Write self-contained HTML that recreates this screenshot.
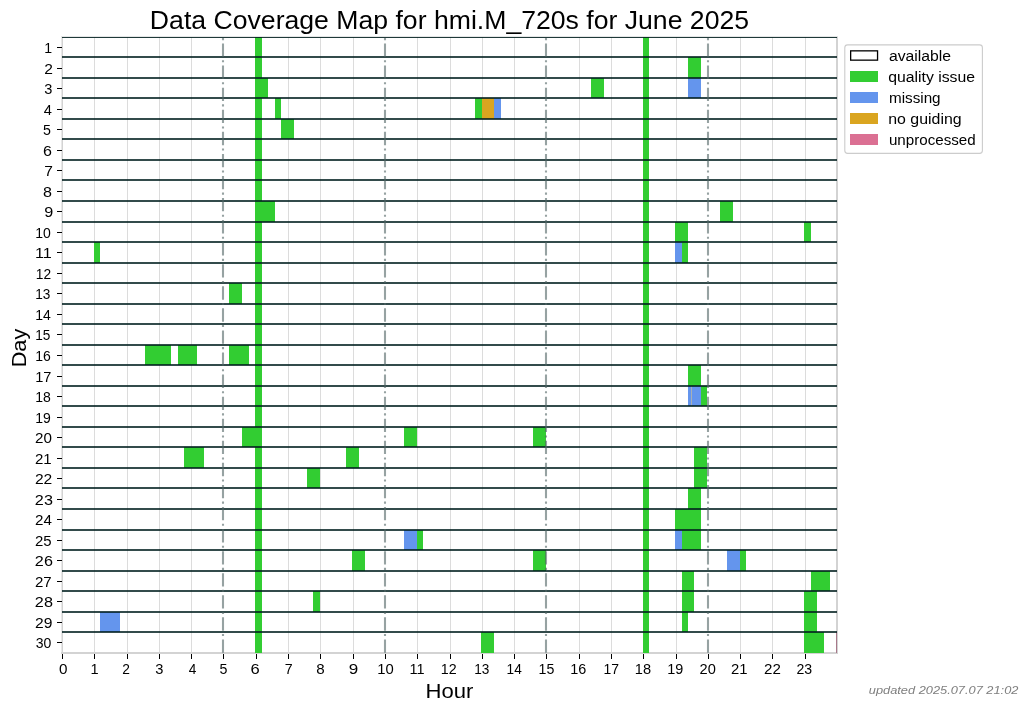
<!DOCTYPE html>
<html><head><meta charset="utf-8"><title>Data Coverage Map</title><style>
html,body{margin:0;padding:0;background:#fff;overflow:hidden;}
svg{display:block;will-change:transform;}
text{font-family:"Liberation Sans",sans-serif;}
</style></head><body>
<svg width="1028" height="711" viewBox="0 0 1028 711">
<rect width="1028" height="711" fill="#fff"/>
<g shape-rendering="crispEdges">
<rect x="61" y="37" width="1" height="617" fill="#e8e8e8"/>
<rect x="62" y="37" width="1" height="617" fill="#d3d3d3"/>
<rect x="836" y="37" width="2" height="617" fill="#d3d3d3"/>
<rect x="61" y="652" width="777" height="2" fill="#d3d3d3"/>
<rect x="94" y="37" width="1" height="615" fill="#dcdcdc"/>
<rect x="127" y="37" width="1" height="615" fill="#dcdcdc"/>
<rect x="159" y="37" width="1" height="615" fill="#dcdcdc"/>
<rect x="191" y="37" width="1" height="615" fill="#dcdcdc"/>
<rect x="256" y="37" width="1" height="615" fill="#dcdcdc"/>
<rect x="288" y="37" width="1" height="615" fill="#dcdcdc"/>
<rect x="320" y="37" width="1" height="615" fill="#dcdcdc"/>
<rect x="353" y="37" width="1" height="615" fill="#dcdcdc"/>
<rect x="417" y="37" width="1" height="615" fill="#dcdcdc"/>
<rect x="450" y="37" width="1" height="615" fill="#dcdcdc"/>
<rect x="482" y="37" width="1" height="615" fill="#dcdcdc"/>
<rect x="514" y="37" width="1" height="615" fill="#dcdcdc"/>
<rect x="579" y="37" width="1" height="615" fill="#dcdcdc"/>
<rect x="611" y="37" width="1" height="615" fill="#dcdcdc"/>
<rect x="643" y="37" width="1" height="615" fill="#dcdcdc"/>
<rect x="676" y="37" width="1" height="615" fill="#dcdcdc"/>
<rect x="740" y="37" width="1" height="615" fill="#dcdcdc"/>
<rect x="772" y="37" width="1" height="615" fill="#dcdcdc"/>
<rect x="805" y="37" width="1" height="615" fill="#dcdcdc"/>
<rect x="255" y="37" width="7" height="20" fill="#32cd32"/>
<rect x="643" y="37" width="6" height="20" fill="#32cd32"/>
<rect x="688" y="57" width="13" height="21" fill="#32cd32"/>
<rect x="255" y="57" width="7" height="21" fill="#32cd32"/>
<rect x="643" y="57" width="6" height="21" fill="#32cd32"/>
<rect x="255" y="78" width="13" height="20" fill="#32cd32"/>
<rect x="591" y="78" width="13" height="20" fill="#32cd32"/>
<rect x="688" y="78" width="13" height="20" fill="#6495ed"/>
<rect x="255" y="78" width="7" height="20" fill="#32cd32"/>
<rect x="643" y="78" width="6" height="20" fill="#32cd32"/>
<rect x="275" y="98" width="6" height="21" fill="#32cd32"/>
<rect x="475" y="98" width="7" height="21" fill="#32cd32"/>
<rect x="482" y="98" width="12" height="21" fill="#daa520"/>
<rect x="494" y="98" width="7" height="21" fill="#6495ed"/>
<rect x="255" y="98" width="7" height="21" fill="#32cd32"/>
<rect x="643" y="98" width="6" height="21" fill="#32cd32"/>
<rect x="281" y="119" width="13" height="20" fill="#32cd32"/>
<rect x="255" y="119" width="7" height="20" fill="#32cd32"/>
<rect x="643" y="119" width="6" height="20" fill="#32cd32"/>
<rect x="255" y="139" width="7" height="21" fill="#32cd32"/>
<rect x="643" y="139" width="6" height="21" fill="#32cd32"/>
<rect x="255" y="160" width="7" height="20" fill="#32cd32"/>
<rect x="643" y="160" width="6" height="20" fill="#32cd32"/>
<rect x="255" y="180" width="7" height="21" fill="#32cd32"/>
<rect x="643" y="180" width="6" height="21" fill="#32cd32"/>
<rect x="255" y="201" width="20" height="21" fill="#32cd32"/>
<rect x="720" y="201" width="13" height="21" fill="#32cd32"/>
<rect x="255" y="201" width="7" height="21" fill="#32cd32"/>
<rect x="643" y="201" width="6" height="21" fill="#32cd32"/>
<rect x="675" y="222" width="13" height="20" fill="#32cd32"/>
<rect x="804" y="222" width="7" height="20" fill="#32cd32"/>
<rect x="255" y="222" width="7" height="20" fill="#32cd32"/>
<rect x="643" y="222" width="6" height="20" fill="#32cd32"/>
<rect x="94" y="242" width="6" height="21" fill="#32cd32"/>
<rect x="675" y="242" width="7" height="21" fill="#6495ed"/>
<rect x="682" y="242" width="6" height="21" fill="#32cd32"/>
<rect x="255" y="242" width="7" height="21" fill="#32cd32"/>
<rect x="643" y="242" width="6" height="21" fill="#32cd32"/>
<rect x="255" y="263" width="7" height="20" fill="#32cd32"/>
<rect x="643" y="263" width="6" height="20" fill="#32cd32"/>
<rect x="229" y="283" width="13" height="21" fill="#32cd32"/>
<rect x="255" y="283" width="7" height="21" fill="#32cd32"/>
<rect x="643" y="283" width="6" height="21" fill="#32cd32"/>
<rect x="255" y="304" width="7" height="20" fill="#32cd32"/>
<rect x="643" y="304" width="6" height="20" fill="#32cd32"/>
<rect x="255" y="324" width="7" height="21" fill="#32cd32"/>
<rect x="643" y="324" width="6" height="21" fill="#32cd32"/>
<rect x="145" y="345" width="26" height="20" fill="#32cd32"/>
<rect x="178" y="345" width="19" height="20" fill="#32cd32"/>
<rect x="229" y="345" width="20" height="20" fill="#32cd32"/>
<rect x="255" y="345" width="7" height="20" fill="#32cd32"/>
<rect x="643" y="345" width="6" height="20" fill="#32cd32"/>
<rect x="688" y="365" width="13" height="21" fill="#32cd32"/>
<rect x="255" y="365" width="7" height="21" fill="#32cd32"/>
<rect x="643" y="365" width="6" height="21" fill="#32cd32"/>
<rect x="688" y="386" width="13" height="20" fill="#6495ed"/>
<rect x="701" y="386" width="6" height="20" fill="#32cd32"/>
<rect x="255" y="386" width="7" height="20" fill="#32cd32"/>
<rect x="643" y="386" width="6" height="20" fill="#32cd32"/>
<rect x="255" y="406" width="7" height="21" fill="#32cd32"/>
<rect x="643" y="406" width="6" height="21" fill="#32cd32"/>
<rect x="242" y="427" width="20" height="20" fill="#32cd32"/>
<rect x="404" y="427" width="13" height="20" fill="#32cd32"/>
<rect x="533" y="427" width="13" height="20" fill="#32cd32"/>
<rect x="255" y="427" width="7" height="20" fill="#32cd32"/>
<rect x="643" y="427" width="6" height="20" fill="#32cd32"/>
<rect x="184" y="447" width="20" height="21" fill="#32cd32"/>
<rect x="346" y="447" width="13" height="21" fill="#32cd32"/>
<rect x="694" y="447" width="13" height="21" fill="#32cd32"/>
<rect x="255" y="447" width="7" height="21" fill="#32cd32"/>
<rect x="643" y="447" width="6" height="21" fill="#32cd32"/>
<rect x="307" y="468" width="13" height="20" fill="#32cd32"/>
<rect x="694" y="468" width="13" height="20" fill="#32cd32"/>
<rect x="255" y="468" width="7" height="20" fill="#32cd32"/>
<rect x="643" y="468" width="6" height="20" fill="#32cd32"/>
<rect x="688" y="488" width="13" height="21" fill="#32cd32"/>
<rect x="255" y="488" width="7" height="21" fill="#32cd32"/>
<rect x="643" y="488" width="6" height="21" fill="#32cd32"/>
<rect x="675" y="509" width="26" height="21" fill="#32cd32"/>
<rect x="255" y="509" width="7" height="21" fill="#32cd32"/>
<rect x="643" y="509" width="6" height="21" fill="#32cd32"/>
<rect x="404" y="530" width="13" height="20" fill="#6495ed"/>
<rect x="417" y="530" width="6" height="20" fill="#32cd32"/>
<rect x="675" y="530" width="7" height="20" fill="#6495ed"/>
<rect x="682" y="530" width="19" height="20" fill="#32cd32"/>
<rect x="255" y="530" width="7" height="20" fill="#32cd32"/>
<rect x="643" y="530" width="6" height="20" fill="#32cd32"/>
<rect x="352" y="550" width="13" height="21" fill="#32cd32"/>
<rect x="533" y="550" width="13" height="21" fill="#32cd32"/>
<rect x="727" y="550" width="13" height="21" fill="#6495ed"/>
<rect x="740" y="550" width="6" height="21" fill="#32cd32"/>
<rect x="255" y="550" width="7" height="21" fill="#32cd32"/>
<rect x="643" y="550" width="6" height="21" fill="#32cd32"/>
<rect x="682" y="571" width="12" height="20" fill="#32cd32"/>
<rect x="811" y="571" width="19" height="20" fill="#32cd32"/>
<rect x="255" y="571" width="7" height="20" fill="#32cd32"/>
<rect x="643" y="571" width="6" height="20" fill="#32cd32"/>
<rect x="313" y="591" width="7" height="21" fill="#32cd32"/>
<rect x="682" y="591" width="12" height="21" fill="#32cd32"/>
<rect x="804" y="591" width="13" height="21" fill="#32cd32"/>
<rect x="255" y="591" width="7" height="21" fill="#32cd32"/>
<rect x="643" y="591" width="6" height="21" fill="#32cd32"/>
<rect x="100" y="612" width="20" height="20" fill="#6495ed"/>
<rect x="682" y="612" width="6" height="20" fill="#32cd32"/>
<rect x="804" y="612" width="13" height="20" fill="#32cd32"/>
<rect x="255" y="612" width="7" height="20" fill="#32cd32"/>
<rect x="643" y="612" width="6" height="20" fill="#32cd32"/>
<rect x="481" y="632" width="13" height="21" fill="#32cd32"/>
<rect x="804" y="632" width="20" height="21" fill="#32cd32"/>
<rect x="255" y="632" width="7" height="21" fill="#32cd32"/>
<rect x="643" y="632" width="6" height="21" fill="#32cd32"/>
<rect x="691" y="386" width="1" height="20" fill="#a8b0b4"/>
<rect x="836" y="632" width="1" height="21" fill="#a8788a"/>
<rect x="61" y="36" width="777" height="1" fill="#e4e6e6"/>
<rect x="62" y="37" width="775" height="1" fill="#001e1e" fill-opacity="0.88"/>
<rect x="62" y="56" width="775" height="2" fill="#001e1e" fill-opacity="0.8"/>
<rect x="62" y="77" width="775" height="2" fill="#001e1e" fill-opacity="0.8"/>
<rect x="62" y="97" width="775" height="2" fill="#001e1e" fill-opacity="0.8"/>
<rect x="62" y="118" width="775" height="2" fill="#001e1e" fill-opacity="0.8"/>
<rect x="62" y="138" width="775" height="2" fill="#001e1e" fill-opacity="0.8"/>
<rect x="62" y="159" width="775" height="2" fill="#001e1e" fill-opacity="0.8"/>
<rect x="62" y="179" width="775" height="2" fill="#001e1e" fill-opacity="0.8"/>
<rect x="62" y="200" width="775" height="2" fill="#001e1e" fill-opacity="0.8"/>
<rect x="62" y="221" width="775" height="2" fill="#001e1e" fill-opacity="0.8"/>
<rect x="62" y="241" width="775" height="2" fill="#001e1e" fill-opacity="0.8"/>
<rect x="62" y="262" width="775" height="2" fill="#001e1e" fill-opacity="0.8"/>
<rect x="62" y="282" width="775" height="2" fill="#001e1e" fill-opacity="0.8"/>
<rect x="62" y="303" width="775" height="2" fill="#001e1e" fill-opacity="0.8"/>
<rect x="62" y="323" width="775" height="2" fill="#001e1e" fill-opacity="0.8"/>
<rect x="62" y="344" width="775" height="2" fill="#001e1e" fill-opacity="0.8"/>
<rect x="62" y="364" width="775" height="2" fill="#001e1e" fill-opacity="0.8"/>
<rect x="62" y="385" width="775" height="2" fill="#001e1e" fill-opacity="0.8"/>
<rect x="62" y="405" width="775" height="2" fill="#001e1e" fill-opacity="0.8"/>
<rect x="62" y="426" width="775" height="2" fill="#001e1e" fill-opacity="0.8"/>
<rect x="62" y="446" width="775" height="2" fill="#001e1e" fill-opacity="0.8"/>
<rect x="62" y="467" width="775" height="2" fill="#001e1e" fill-opacity="0.8"/>
<rect x="62" y="487" width="775" height="2" fill="#001e1e" fill-opacity="0.8"/>
<rect x="62" y="508" width="775" height="2" fill="#001e1e" fill-opacity="0.8"/>
<rect x="62" y="529" width="775" height="2" fill="#001e1e" fill-opacity="0.8"/>
<rect x="62" y="549" width="775" height="2" fill="#001e1e" fill-opacity="0.8"/>
<rect x="62" y="570" width="775" height="2" fill="#001e1e" fill-opacity="0.8"/>
<rect x="62" y="590" width="775" height="2" fill="#001e1e" fill-opacity="0.8"/>
<rect x="62" y="611" width="775" height="2" fill="#001e1e" fill-opacity="0.8"/>
<rect x="62" y="631" width="775" height="2" fill="#001e1e" fill-opacity="0.8"/>
</g>
<line x1="223" y1="652.75" x2="223" y2="36.75" stroke="#506464" stroke-opacity="0.6" stroke-width="2.08" stroke-dasharray="13.33 3.33 2.08 3.33"/>
<line x1="385" y1="652.75" x2="385" y2="36.75" stroke="#506464" stroke-opacity="0.6" stroke-width="2.08" stroke-dasharray="13.33 3.33 2.08 3.33"/>
<line x1="546" y1="652.75" x2="546" y2="36.75" stroke="#506464" stroke-opacity="0.6" stroke-width="2.08" stroke-dasharray="13.33 3.33 2.08 3.33"/>
<line x1="708" y1="652.75" x2="708" y2="36.75" stroke="#506464" stroke-opacity="0.6" stroke-width="2.08" stroke-dasharray="13.33 3.33 2.08 3.33"/>
<g shape-rendering="crispEdges">
<rect x="62" y="654" width="1" height="5" fill="#000"/>
<rect x="94" y="654" width="1" height="5" fill="#000"/>
<rect x="127" y="654" width="1" height="5" fill="#000"/>
<rect x="159" y="654" width="1" height="5" fill="#000"/>
<rect x="191" y="654" width="1" height="5" fill="#000"/>
<rect x="223" y="654" width="1" height="5" fill="#000"/>
<rect x="256" y="654" width="1" height="5" fill="#000"/>
<rect x="288" y="654" width="1" height="5" fill="#000"/>
<rect x="320" y="654" width="1" height="5" fill="#000"/>
<rect x="353" y="654" width="1" height="5" fill="#000"/>
<rect x="385" y="654" width="1" height="5" fill="#000"/>
<rect x="417" y="654" width="1" height="5" fill="#000"/>
<rect x="450" y="654" width="1" height="5" fill="#000"/>
<rect x="482" y="654" width="1" height="5" fill="#000"/>
<rect x="514" y="654" width="1" height="5" fill="#000"/>
<rect x="546" y="654" width="1" height="5" fill="#000"/>
<rect x="579" y="654" width="1" height="5" fill="#000"/>
<rect x="611" y="654" width="1" height="5" fill="#000"/>
<rect x="643" y="654" width="1" height="5" fill="#000"/>
<rect x="676" y="654" width="1" height="5" fill="#000"/>
<rect x="708" y="654" width="1" height="5" fill="#000"/>
<rect x="740" y="654" width="1" height="5" fill="#000"/>
<rect x="772" y="654" width="1" height="5" fill="#000"/>
<rect x="805" y="654" width="1" height="5" fill="#000"/>
<rect x="57" y="47" width="5" height="1" fill="#000"/>
<rect x="57" y="68" width="5" height="1" fill="#000"/>
<rect x="57" y="88" width="5" height="1" fill="#000"/>
<rect x="57" y="109" width="5" height="1" fill="#000"/>
<rect x="57" y="129" width="5" height="1" fill="#000"/>
<rect x="57" y="150" width="5" height="1" fill="#000"/>
<rect x="57" y="170" width="5" height="1" fill="#000"/>
<rect x="57" y="191" width="5" height="1" fill="#000"/>
<rect x="57" y="211" width="5" height="1" fill="#000"/>
<rect x="57" y="232" width="5" height="1" fill="#000"/>
<rect x="57" y="252" width="5" height="1" fill="#000"/>
<rect x="57" y="273" width="5" height="1" fill="#000"/>
<rect x="57" y="293" width="5" height="1" fill="#000"/>
<rect x="57" y="314" width="5" height="1" fill="#000"/>
<rect x="57" y="334" width="5" height="1" fill="#000"/>
<rect x="57" y="355" width="5" height="1" fill="#000"/>
<rect x="57" y="376" width="5" height="1" fill="#000"/>
<rect x="57" y="396" width="5" height="1" fill="#000"/>
<rect x="57" y="417" width="5" height="1" fill="#000"/>
<rect x="57" y="437" width="5" height="1" fill="#000"/>
<rect x="57" y="458" width="5" height="1" fill="#000"/>
<rect x="57" y="478" width="5" height="1" fill="#000"/>
<rect x="57" y="499" width="5" height="1" fill="#000"/>
<rect x="57" y="519" width="5" height="1" fill="#000"/>
<rect x="57" y="540" width="5" height="1" fill="#000"/>
<rect x="57" y="560" width="5" height="1" fill="#000"/>
<rect x="57" y="581" width="5" height="1" fill="#000"/>
<rect x="57" y="601" width="5" height="1" fill="#000"/>
<rect x="57" y="622" width="5" height="1" fill="#000"/>
<rect x="57" y="642" width="5" height="1" fill="#000"/>
</g>
<rect x="844.8" y="44.9" width="137.6" height="108.5" rx="2.8" ry="2.8" fill="#fff" stroke="#cccccc" stroke-width="1.1"/>
<rect x="850.65" y="50.85" width="26.9" height="9.3" fill="#fff" stroke="#000" stroke-width="1.3"/>
<rect x="850" y="71" width="28" height="11" fill="#32cd32" shape-rendering="crispEdges"/>
<rect x="850" y="92" width="28" height="11" fill="#6495ed" shape-rendering="crispEdges"/>
<rect x="850" y="113" width="28" height="11" fill="#daa520" shape-rendering="crispEdges"/>
<rect x="850" y="134" width="28" height="11" fill="#db7093" shape-rendering="crispEdges"/>
<text x="149.89" y="28.90" fill="#000" style="font-size:25.2px;" textLength="599.20" lengthAdjust="spacingAndGlyphs">Data Coverage Map for hmi.M_720s for June 2025</text>
<text x="425.56" y="698.00" fill="#000" style="font-size:21.0px;" textLength="47.90" lengthAdjust="spacingAndGlyphs">Hour</text>
<text transform="rotate(-90)" x="-367.39" y="25.90" fill="#000" style="font-size:21.0px;" textLength="38.66" lengthAdjust="spacingAndGlyphs">Day</text>
<text x="868.75" y="693.90" fill="#7f7f7f" style="font-size:11.6px;font-style:italic;" textLength="149.64" lengthAdjust="spacingAndGlyphs">updated 2025.07.07 21:02</text>
<text x="888.91" y="61.00" fill="#000" style="font-size:14.45px;" textLength="62.19" lengthAdjust="spacingAndGlyphs">available</text>
<text x="888.22" y="81.85" fill="#000" style="font-size:14.45px;" textLength="86.79" lengthAdjust="spacingAndGlyphs">quality issue</text>
<text x="888.94" y="102.70" fill="#000" style="font-size:14.45px;" textLength="51.66" lengthAdjust="spacingAndGlyphs">missing</text>
<text x="888.21" y="123.55" fill="#000" style="font-size:14.45px;" textLength="73.41" lengthAdjust="spacingAndGlyphs">no guiding</text>
<text x="888.95" y="145.20" fill="#000" style="font-size:14.45px;" textLength="86.75" lengthAdjust="spacingAndGlyphs">unprocessed</text>
<text x="58.96" y="674.00" fill="#000" style="font-size:14.6px;" textLength="8.48" lengthAdjust="spacingAndGlyphs">0</text>
<text x="90.50" y="674.00" fill="#000" style="font-size:14.6px;" textLength="8.12" lengthAdjust="spacingAndGlyphs">1</text>
<text x="122.34" y="674.00" fill="#000" style="font-size:14.6px;" textLength="7.68" lengthAdjust="spacingAndGlyphs">2</text>
<text x="155.30" y="674.00" fill="#000" style="font-size:14.6px;" textLength="8.17" lengthAdjust="spacingAndGlyphs">3</text>
<text x="188.69" y="674.00" fill="#000" style="font-size:14.6px;" textLength="7.60" lengthAdjust="spacingAndGlyphs">4</text>
<text x="219.48" y="674.00" fill="#000" style="font-size:14.6px;" textLength="7.92" lengthAdjust="spacingAndGlyphs">5</text>
<text x="250.54" y="674.00" fill="#000" style="font-size:14.6px;" textLength="9.21" lengthAdjust="spacingAndGlyphs">6</text>
<text x="284.63" y="674.00" fill="#000" style="font-size:14.6px;" textLength="7.92" lengthAdjust="spacingAndGlyphs">7</text>
<text x="316.28" y="674.00" fill="#000" style="font-size:14.6px;" textLength="8.43" lengthAdjust="spacingAndGlyphs">8</text>
<text x="348.83" y="674.00" fill="#000" style="font-size:14.6px;" textLength="9.48" lengthAdjust="spacingAndGlyphs">9</text>
<text x="377.17" y="674.00" fill="#000" style="font-size:14.6px;" textLength="16.48" lengthAdjust="spacingAndGlyphs">10</text>
<text x="409.46" y="674.00" fill="#000" style="font-size:14.6px;" textLength="15.05" lengthAdjust="spacingAndGlyphs">11</text>
<text x="440.87" y="674.00" fill="#000" style="font-size:14.6px;" textLength="15.85" lengthAdjust="spacingAndGlyphs">12</text>
<text x="474.28" y="674.00" fill="#000" style="font-size:14.6px;" textLength="15.15" lengthAdjust="spacingAndGlyphs">13</text>
<text x="506.57" y="674.00" fill="#000" style="font-size:14.6px;" textLength="15.15" lengthAdjust="spacingAndGlyphs">14</text>
<text x="538.54" y="674.00" fill="#000" style="font-size:14.6px;" textLength="15.77" lengthAdjust="spacingAndGlyphs">15</text>
<text x="570.20" y="674.00" fill="#000" style="font-size:14.6px;" textLength="16.03" lengthAdjust="spacingAndGlyphs">16</text>
<text x="603.55" y="674.00" fill="#000" style="font-size:14.6px;" textLength="15.55" lengthAdjust="spacingAndGlyphs">17</text>
<text x="634.87" y="674.00" fill="#000" style="font-size:14.6px;" textLength="16.25" lengthAdjust="spacingAndGlyphs">18</text>
<text x="667.20" y="674.00" fill="#000" style="font-size:14.6px;" textLength="16.03" lengthAdjust="spacingAndGlyphs">19</text>
<text x="699.59" y="674.00" fill="#000" style="font-size:14.6px;" textLength="16.25" lengthAdjust="spacingAndGlyphs">20</text>
<text x="730.98" y="674.00" fill="#000" style="font-size:14.6px;" textLength="16.52" lengthAdjust="spacingAndGlyphs">21</text>
<text x="764.12" y="674.00" fill="#000" style="font-size:14.6px;" textLength="16.82" lengthAdjust="spacingAndGlyphs">22</text>
<text x="796.48" y="674.00" fill="#000" style="font-size:14.6px;" textLength="15.70" lengthAdjust="spacingAndGlyphs">23</text>
<text x="44.15" y="52.97" fill="#000" style="font-size:14.6px;" textLength="7.86" lengthAdjust="spacingAndGlyphs">1</text>
<text x="44.23" y="73.50" fill="#000" style="font-size:14.6px;" textLength="8.68" lengthAdjust="spacingAndGlyphs">2</text>
<text x="44.30" y="94.03" fill="#000" style="font-size:14.6px;" textLength="8.12" lengthAdjust="spacingAndGlyphs">3</text>
<text x="43.82" y="114.57" fill="#000" style="font-size:14.6px;" textLength="8.16" lengthAdjust="spacingAndGlyphs">4</text>
<text x="43.02" y="135.10" fill="#000" style="font-size:14.6px;" textLength="7.92" lengthAdjust="spacingAndGlyphs">5</text>
<text x="42.90" y="155.63" fill="#000" style="font-size:14.6px;" textLength="8.95" lengthAdjust="spacingAndGlyphs">6</text>
<text x="44.23" y="176.17" fill="#000" style="font-size:14.6px;" textLength="8.68" lengthAdjust="spacingAndGlyphs">7</text>
<text x="42.90" y="196.70" fill="#000" style="font-size:14.6px;" textLength="8.95" lengthAdjust="spacingAndGlyphs">8</text>
<text x="44.20" y="217.23" fill="#000" style="font-size:14.6px;" textLength="9.02" lengthAdjust="spacingAndGlyphs">9</text>
<text x="35.24" y="237.77" fill="#000" style="font-size:14.6px;" textLength="15.59" lengthAdjust="spacingAndGlyphs">10</text>
<text x="35.03" y="258.30" fill="#000" style="font-size:14.6px;" textLength="16.79" lengthAdjust="spacingAndGlyphs">11</text>
<text x="35.86" y="278.83" fill="#000" style="font-size:14.6px;" textLength="15.32" lengthAdjust="spacingAndGlyphs">12</text>
<text x="35.28" y="299.37" fill="#000" style="font-size:14.6px;" textLength="15.15" lengthAdjust="spacingAndGlyphs">13</text>
<text x="35.24" y="319.90" fill="#000" style="font-size:14.6px;" textLength="15.59" lengthAdjust="spacingAndGlyphs">14</text>
<text x="35.28" y="340.43" fill="#000" style="font-size:14.6px;" textLength="15.15" lengthAdjust="spacingAndGlyphs">15</text>
<text x="35.24" y="360.97" fill="#000" style="font-size:14.6px;" textLength="15.59" lengthAdjust="spacingAndGlyphs">16</text>
<text x="35.20" y="381.50" fill="#000" style="font-size:14.6px;" textLength="16.23" lengthAdjust="spacingAndGlyphs">17</text>
<text x="35.24" y="402.03" fill="#000" style="font-size:14.6px;" textLength="15.59" lengthAdjust="spacingAndGlyphs">18</text>
<text x="35.24" y="422.57" fill="#000" style="font-size:14.6px;" textLength="15.59" lengthAdjust="spacingAndGlyphs">19</text>
<text x="34.96" y="443.10" fill="#000" style="font-size:14.6px;" textLength="16.89" lengthAdjust="spacingAndGlyphs">20</text>
<text x="34.97" y="463.63" fill="#000" style="font-size:14.6px;" textLength="16.74" lengthAdjust="spacingAndGlyphs">21</text>
<text x="34.93" y="484.17" fill="#000" style="font-size:14.6px;" textLength="17.39" lengthAdjust="spacingAndGlyphs">22</text>
<text x="34.89" y="504.70" fill="#000" style="font-size:14.6px;" textLength="18.01" lengthAdjust="spacingAndGlyphs">23</text>
<text x="34.96" y="525.23" fill="#000" style="font-size:14.6px;" textLength="16.89" lengthAdjust="spacingAndGlyphs">24</text>
<text x="34.97" y="545.77" fill="#000" style="font-size:14.6px;" textLength="16.67" lengthAdjust="spacingAndGlyphs">25</text>
<text x="34.89" y="566.30" fill="#000" style="font-size:14.6px;" textLength="18.01" lengthAdjust="spacingAndGlyphs">26</text>
<text x="34.97" y="586.83" fill="#000" style="font-size:14.6px;" textLength="16.74" lengthAdjust="spacingAndGlyphs">27</text>
<text x="34.89" y="607.37" fill="#000" style="font-size:14.6px;" textLength="18.01" lengthAdjust="spacingAndGlyphs">28</text>
<text x="34.93" y="627.90" fill="#000" style="font-size:14.6px;" textLength="17.41" lengthAdjust="spacingAndGlyphs">29</text>
<text x="35.63" y="648.43" fill="#000" style="font-size:14.6px;" textLength="15.59" lengthAdjust="spacingAndGlyphs">30</text>
</svg>
</body></html>
